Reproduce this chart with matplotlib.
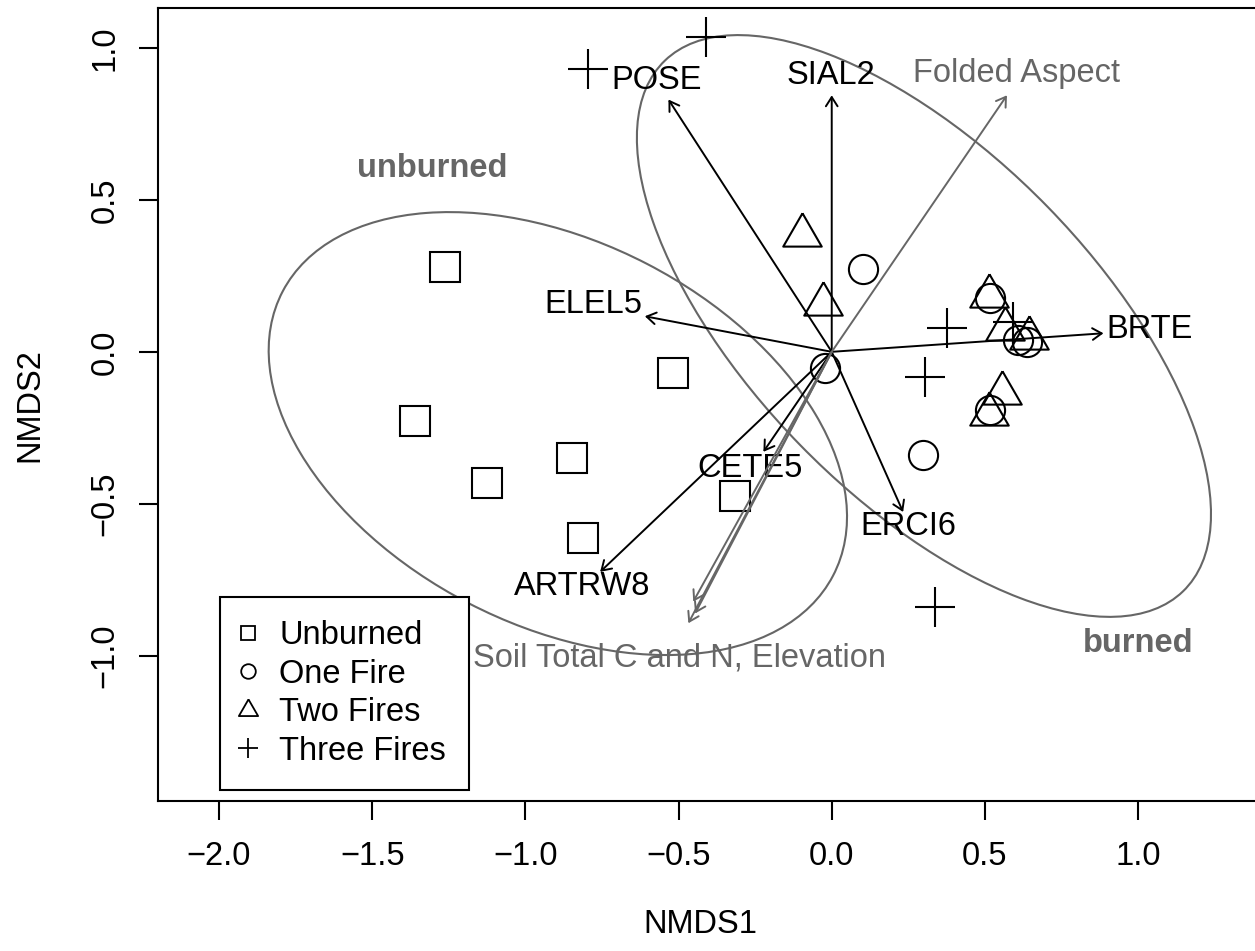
import numpy as np
import matplotlib.pyplot as plt
from matplotlib.patches import Ellipse
from matplotlib.lines import Line2D

plt.rcParams['font.family'] = ['Liberation Sans', 'DejaVu Sans']

# site scores (NMDS1, NMDS2) by fire history
unburned_x = [-1.262, -1.360, -1.126, -0.849, -0.813, -0.517, -0.316]
unburned_y = [0.280, -0.228, -0.431, -0.349, -0.614, -0.071, -0.475]
one_fire_x = [-0.022, 0.101, 0.517, 0.609, 0.637, 0.517, 0.297]
one_fire_y = [-0.054, 0.274, 0.176, 0.038, 0.033, -0.192, -0.340]
two_fires_x = [-0.097, -0.028, 0.515, 0.566, 0.645, 0.555, 0.515]
two_fires_y = [0.384, 0.157, 0.183, 0.074, 0.045, -0.135, -0.205]
three_fires_x = [-0.795, -0.411, 0.375, 0.305, 0.593, 0.337]
three_fires_y = [0.932, 1.036, 0.077, -0.084, 0.097, -0.840]

# species vectors
species = ['POSE', 'SIAL2', 'ELEL5', 'BRTE', 'ERCI6', 'CETE5', 'ARTRW8']
species_x = [-0.533, 0.0, -0.610, 0.887, 0.233, -0.223, -0.756]
species_y = [0.830, 0.844, 0.117, 0.061, -0.527, -0.329, -0.724]
species_lab_x = [-0.571, -0.003, -0.779, 1.037, 0.249, -0.267, -0.815]
species_lab_y = [0.893, 0.908, 0.155, 0.073, -0.575, -0.384, -0.772]

# environmental vectors (aspect, soil C, soil N, elevation)
env_x = [0.572, -0.452, -0.468, -0.446]
env_y = [0.844, -0.822, -0.893, -0.861]
env_labels = ['Folded Aspect', 'Soil Total C and N, Elevation']
env_lab_x = [0.602, -0.496]
env_lab_y = [0.915, -1.006]

# group ellipses (centre and covariance)
groups = ['unburned', 'burned']
ell_cx = [-0.894, 0.301]
ell_cy = [-0.269, 0.085]
ell_sxx = [0.891, 0.878]
ell_syy = [0.531, 0.916]
ell_sxy = [-0.258, -0.580]
group_lab_x = [-1.305, 1.0]
group_lab_y = [0.603, -0.960]

xticks = [-2.0, -1.5, -1.0, -0.5, 0.0, 0.5, 1.0]
yticks = [-1.0, -0.5, 0.0, 0.5, 1.0]

FS = 23.5
GRAY = '#666666'
tri = [(0, 1), (-0.866, -0.5), (0.866, -0.5), (0, 1)]

fig = plt.figure(figsize=(12.55, 9.51), dpi=100)
ax = fig.add_axes([0.1257, 0.1577, 0.880, 0.8335])

for i in range(len(groups)):
    S = np.array([[ell_sxx[i], ell_sxy[i]], [ell_sxy[i], ell_syy[i]]])
    vals, vecs = np.linalg.eigh(S)
    ang = np.degrees(np.arctan2(vecs[1, 1], vecs[0, 1]))
    e = Ellipse((ell_cx[i], ell_cy[i]), 2 * np.sqrt(vals[1]), 2 * np.sqrt(vals[0]),
                angle=ang, fill=False, edgecolor=GRAY, lw=1.5)
    ax.add_patch(e)
    ax.text(group_lab_x[i], group_lab_y[i], groups[i], color=GRAY, fontsize=FS,
            fontweight='bold', ha='center', va='center')

mk = dict(ls='none', mfc='none', mec='black', mew=1.5)
ax.plot(unburned_x, unburned_y, marker='s', ms=21, **mk)
ax.plot(one_fire_x, one_fire_y, marker='o', ms=21, **mk)
ax.plot(two_fires_x, two_fires_y, marker=tri, ms=32, **mk)
ax.plot(three_fires_x, three_fires_y, marker='+', ms=29, **mk)

for i in range(len(species)):
    ax.annotate('', xy=(species_x[i], species_y[i]), xytext=(0, 0),
                arrowprops=dict(arrowstyle='->,head_length=0.55,head_width=0.35',
                                color='black', lw=1.4, shrinkA=0, shrinkB=0,
                                mutation_scale=12))
    ax.text(species_lab_x[i], species_lab_y[i], species[i], fontsize=FS,
            ha='center', va='center')

for i in range(len(env_x)):
    ax.annotate('', xy=(env_x[i], env_y[i]), xytext=(0, 0),
                arrowprops=dict(arrowstyle='->,head_length=0.55,head_width=0.35',
                                color=GRAY, lw=1.4, shrinkA=0, shrinkB=0,
                                mutation_scale=12))
for i in range(len(env_labels)):
    ax.text(env_lab_x[i], env_lab_y[i], env_labels[i], fontsize=FS, color=GRAY,
            ha='center', va='center')

ax.set_xlim(-2.200, 1.405)
ax.set_ylim(-1.478, 1.130)
ax.set_xticks(xticks)
ax.set_xticklabels([f'{v:.1f}'.replace('-', '\u2212') for v in xticks])
ax.set_yticks(yticks)
ax.set_yticklabels([f'{v:.1f}'.replace('-', '\u2212') for v in yticks],
                   rotation=90, va='center')
ax.tick_params(length=14, width=1.5, labelsize=FS)
ax.tick_params(axis='x', pad=15)
ax.tick_params(axis='y', pad=13)
for s in ax.spines.values():
    s.set_linewidth(1.5)

ax.set_xlabel('NMDS1', fontsize=FS, va='center')
ax.xaxis.set_label_coords(0.491, -0.156)
ax.set_ylabel('NMDS2', fontsize=FS, va='center')
ax.yaxis.set_label_coords(-0.1156, 0.5)

handles = [
    Line2D([], [], marker='s', ms=10.5, **mk),
    Line2D([], [], marker='o', ms=10.5, **mk),
    Line2D([], [], marker=tri, ms=16, **mk),
    Line2D([], [], marker='+', ms=14.5, **mk),
]
leg = ax.legend(handles, ['Unburned', 'One Fire', 'Two Fires', 'Three Fires'],
                loc='lower left', bbox_to_anchor=(0.0561, 0.0135), borderaxespad=0,
                fontsize=FS, fancybox=False, edgecolor='black', framealpha=1,
                labelspacing=0.23, borderpad=0.72, handlelength=0.3,
                handletextpad=0.8)
leg.get_frame().set_linewidth(1.5)
for h in leg.legend_handles:
    h.set_markeredgewidth(1.3)

fig.savefig('out.png', dpi=100)
